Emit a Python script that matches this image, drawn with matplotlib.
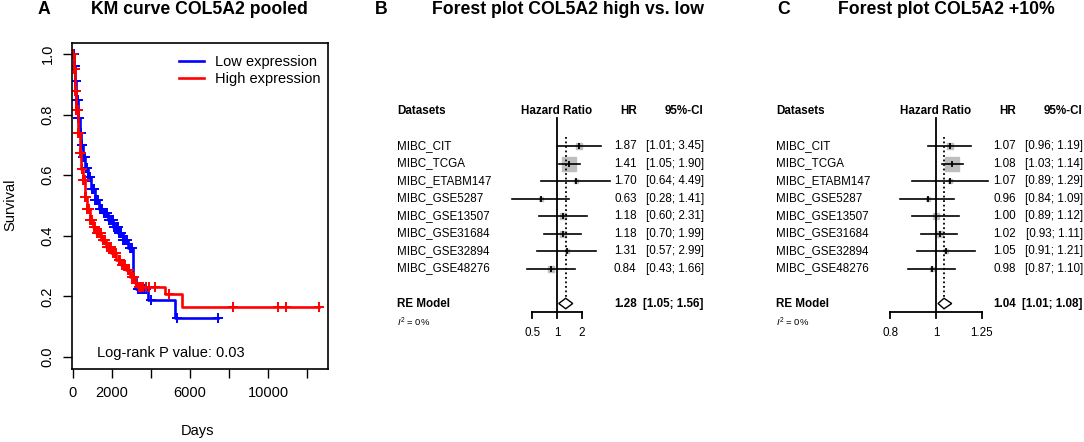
import numpy as np
import matplotlib
matplotlib.use("Agg")
import matplotlib.pyplot as plt
from matplotlib.patches import Polygon

plt.rcParams['font.family'] = ['Liberation Sans', 'DejaVu Sans']
plt.rcParams['mathtext.fontset'] = 'custom'
plt.rcParams['mathtext.it'] = 'Liberation Sans:italic'
plt.rcParams['mathtext.rm'] = 'Liberation Sans'

# ---- KM curve data ----
low_t = [0, 60, 120, 190, 270, 360, 450, 530, 650, 790, 950, 1130, 1330, 1550,
         1800, 2070, 2330, 2580, 2850, 3090, 3110, 3250, 3870, 5230, 7450]
low_s = [1.0, 0.96, 0.91, 0.85, 0.79, 0.74, 0.70, 0.66, 0.625, 0.595, 0.555, 0.518,
         0.49, 0.474, 0.452, 0.43, 0.408, 0.386, 0.36, 0.337, 0.26, 0.225, 0.188,
         0.127, 0.127]
low_cens = [20, 30, 50, 80, 100, 130, 150, 180, 200, 240, 260, 300, 330, 380, 400,
            420, 470, 480, 500, 540, 560, 600, 640, 700, 750, 800, 850, 900, 980,
            1000, 1050, 1100, 1150, 1200, 1250, 1300, 1400, 1450, 1500, 1600, 1650,
            1700, 1750, 1850, 1900, 2000, 2050, 2100, 2200, 2250, 2300, 2400, 2450,
            2500, 2600, 2650, 2700, 2800, 2950, 3050, 3350, 3400, 3450, 3550, 3600,
            3650, 3750, 4030, 5320, 7450]

high_t = [0, 50, 120, 190, 270, 360, 450, 530, 620, 740, 870, 1030, 1210, 1470,
          1730, 1990, 2240, 2500, 2750, 2960, 3180, 3300, 4720, 5620, 12600]
high_s = [1.0, 0.95, 0.88, 0.815, 0.74, 0.672, 0.62, 0.584, 0.529, 0.49, 0.452,
          0.428, 0.408, 0.385, 0.364, 0.342, 0.32, 0.303, 0.287, 0.265, 0.243,
          0.232, 0.208, 0.164, 0.164]
high_cens = [10, 20, 40, 70, 90, 110, 140, 160, 200, 230, 260, 300, 340, 380, 420,
             460, 500, 540, 570, 610, 650, 700, 760, 800, 850, 900, 950, 1000,
             1100, 1150, 1250, 1300, 1400, 1450, 1550, 1600, 1650, 1750, 1850,
             1900, 1950, 2050, 2100, 2200, 2350, 2400, 2450, 2550, 2650, 2700,
             2850, 2900, 3050, 3150, 3250, 3400, 3500, 3600, 3750, 3900, 4200,
             4920, 8230, 10530, 10940, 12600]

# ---- forest plot data ----
datasets = ["MIBC_CIT", "MIBC_TCGA", "MIBC_ETABM147", "MIBC_GSE5287",
            "MIBC_GSE13507", "MIBC_GSE31684", "MIBC_GSE32894", "MIBC_GSE48276"]

hr_b = [1.87, 1.41, 1.70, 0.63, 1.18, 1.18, 1.31, 0.84]
lo_b = [1.01, 1.05, 0.64, 0.28, 0.60, 0.70, 0.57, 0.43]
hi_b = [3.45, 1.90, 4.49, 1.41, 2.31, 1.99, 2.99, 1.66]
w_b = [10, 45, 2, 5, 6, 8, 4, 8]
re_b = [1.28, 1.05, 1.56]
ticks_b = [0.5, 1, 2]

hr_c = [1.07, 1.08, 1.07, 0.96, 1.00, 1.02, 1.05, 0.98]
lo_c = [0.96, 1.03, 0.89, 0.84, 0.89, 0.93, 0.91, 0.87]
hi_c = [1.19, 1.14, 1.29, 1.09, 1.12, 1.11, 1.21, 1.10]
w_c = [8, 45, 2, 5, 7, 10, 4, 5]
re_c = [1.04, 1.01, 1.08]
ticks_c = [0.8, 1, 1.25]

W, H = 1084, 442
fig = plt.figure(figsize=(W / 100, H / 100), dpi=100)


def px_axes(left, right, top, bottom):
    return fig.add_axes([left / W, (H - bottom) / H, (right - left) / W, (bottom - top) / H])


def surv_at(t, s, c):
    idx = np.searchsorted(t, c, side='right') - 1
    return np.asarray(s)[idx]


# ---- panel A: KM ----
ax = px_axes(72, 328, 43, 369)
for t, s, cens, col, lab in [(low_t, low_s, low_cens, '#0000FF', 'Low expression'),
                             (high_t, high_s, high_cens, '#FF0000', 'High expression')]:
    ax.step(t, s, where='post', color=col, lw=1.9, label=lab)
    ax.plot(cens, surv_at(t, s, cens), ls='none', marker='+', ms=7.5, mew=1.4, color=col)

ax.set_xlim(-30, 13070)
ax.set_ylim(-0.04, 1.037)
ax.set_xticks([0, 2000, 4000, 6000, 8000, 10000, 12000])
ax.set_xticklabels(['0', '2000', '', '6000', '', '10000', ''])
ax.set_yticks([0, 0.2, 0.4, 0.6, 0.8, 1.0])
ax.set_yticklabels(['0.0', '0.2', '0.4', '0.6', '0.8', '1.0'], rotation=90, va='center')
ax.tick_params(direction='out', length=6.5, width=1, labelsize=10.5, pad=6)
for sp in ax.spines.values():
    sp.set_linewidth(1.2)
fig.text(10 / W, 1 - 205 / H, 'Survival', fontsize=10.5, rotation=90,
         ha='center', va='center')
fig.text(198 / W, 1 - 431 / H, 'Days', fontsize=10.5, ha='center', va='center')
ax.legend(loc='upper right', bbox_to_anchor=(1.0, 0.985), frameon=False,
          fontsize=10.5, handlelength=1.7, handletextpad=0.8, labelspacing=0.2,
          borderaxespad=0.2, borderpad=0.3)
ax.text(0.098, 0.049, 'Log-rank P value: 0.03', transform=ax.transAxes,
        fontsize=10.5, va='center')


# ---- panels B and C: forest plots ----
def forest(c_px, scale, hr, lo, hi, w, re, ticks):
    left, right = c_px - 170, c_px + 150
    fx = px_axes(left, right, 100, 345)
    fx.set_xlim(-170 / scale, 150 / scale)
    fx.set_ylim(-11.371, 2.629)
    fx.axis('off')
    tr = fx.get_yaxis_transform()
    fs = 8.4

    fx.text(0.031, 2, 'Datasets', transform=tr, fontsize=fs, weight='bold', va='center')
    fx.text(0, 2, 'Hazard Ratio', fontsize=fs, weight='bold', va='center', ha='center')
    fx.text(0.78, 2, 'HR', transform=tr, fontsize=fs, weight='bold', va='center', ha='right')
    fx.text(0.99, 2, '95%-CI', transform=tr, fontsize=fs, weight='bold', va='center', ha='right')

    for k, name in enumerate(datasets):
        y = -k
        sz = 2.2 * np.sqrt(w[k]) * 0.72
        fx.plot(np.log(hr[k]), y, marker='s', ms=sz, color='#BEBEBE', mec='#BEBEBE', zorder=2)
        fx.plot([np.log(lo[k]), np.log(hi[k])], [y, y], color='black', lw=1.2, zorder=3)
        fx.plot(np.log(hr[k]), y, marker='|', ms=4.5, mew=1.3, color='black', zorder=4)
        fx.text(0.031, y, name, transform=tr, fontsize=fs, va='center')
        fx.text(0.78, y, f'{hr[k]:.2f}', transform=tr, fontsize=fs, va='center', ha='right')
        fx.text(0.99, y, f'[{lo[k]:.2f}; {hi[k]:.2f}]', transform=tr, fontsize=fs,
                va='center', ha='right')

    # random effects summary
    yr = -9
    est, l, h = np.log(re)
    dh = 0.3
    fx.add_patch(Polygon([(l, yr), (est, yr + dh), (h, yr), (est, yr - dh)],
                         closed=True, fc='white', ec='black', lw=1.0, zorder=3))
    fx.text(0.031, yr, 'RE Model', transform=tr, fontsize=fs, weight='bold', va='center')
    fx.text(0.78, yr, f'{re[0]:.2f}', transform=tr, fontsize=fs, weight='bold',
            va='center', ha='right')
    fx.text(0.99, yr, f'[{re[1]:.2f}; {re[2]:.2f}]', transform=tr, fontsize=fs,
            weight='bold', va='center', ha='right')
    fx.text(0.031, -10.1, r'$I^2$ = 0%', transform=tr, fontsize=6.8, va='center')

    # reference lines
    fx.plot([0, 0], [1.6, -9.5], color='black', lw=1.3)
    fx.plot([est, est], [0.5, yr + dh], color='black', lw=1.3, ls=(0, (1, 1.5)))

    # x axis
    lt = np.log(ticks)
    fx.plot([lt[0], lt[-1]], [-9.5, -9.5], color='black', lw=1.3)
    for v, lab in zip(lt, ticks):
        fx.plot([v, v], [-9.5, -9.85], color='black', lw=1.3)
        fx.text(v, -10.7, f'{lab:g}', fontsize=fs, ha='center', va='center')


forest(557, 35.35, hr_b, lo_b, hi_b, w_b, re_b, ticks_b)
forest(936, 204.0, hr_c, lo_c, hi_c, w_c, re_c, ticks_c)

# ---- titles and panel letters ----
ty = 1 - 10 / H
for xl, letter, xc, title in [(38, 'A', 199, 'KM curve COL5A2 pooled'),
                              (375, 'B', 567.5, 'Forest plot COL5A2 high vs. low'),
                              (777, 'C', 946, 'Forest plot COL5A2 +10%')]:
    fig.text(xl / W, ty, letter, fontsize=12.7, weight='bold', va='center', ha='left')
    fig.text(xc / W, ty, title, fontsize=12.7, weight='bold', va='center', ha='center')

fig.savefig('out.png', dpi=100)
